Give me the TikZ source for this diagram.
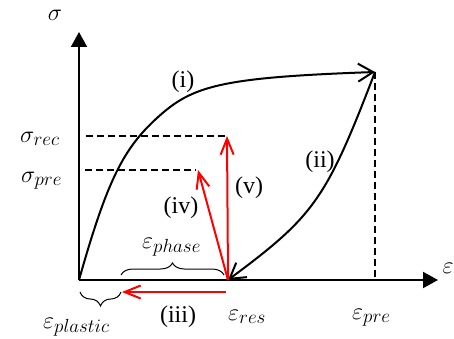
\RequirePackage{fix-cm}
\documentclass[tikz,border=0pt]{standalone}
\usepackage{fontspec}
\setmainfont{Liberation Serif}
\usetikzlibrary{arrows.meta,decorations.pathreplacing}
\DeclareMathSizes{24}{24}{19}{14}

\begin{document}
\begin{tikzpicture}[
    x=1pt, y=1pt,
    font=\fontsize{24}{28}\selectfont,
    axis/.style={
        line width=2pt,
        -{Triangle[length=15pt,width=16pt]}
    },
    curve/.style={
        line width=2pt,
        -{Straight Barb[length=15pt,width=18pt]}
    },
    guide/.style={
        line width=2pt,
        dash pattern=on 7pt off 4pt
    },
    move/.style={
        red,
        line width=2pt,
        -{Straight Barb[length=16pt,width=13pt]}
    },
    strainbrace/.style={
        decorate,
        decoration={brace,amplitude=#1},
        line width=1pt
    },
    lbl/.style={
        inner sep=0pt
    }
]

    \useasboundingbox (0,0) rectangle (454,338);

    % Points
    \coordinate (O) at (79,58);
    \coordinate (ytip) at (79,306);
    \coordinate (xtip) at (438,58);
    \coordinate (knee) at (157,220);
    \coordinate (P) at (375,266);
    \coordinate (R) at (228,58);
    \coordinate (Pfoot) at (375,58);
    \coordinate (rec0) at (86,202);
    \coordinate (rec1) at (225,202);
    \coordinate (pre0) at (85,168);
    \coordinate (pre1) at (196,168);
    \coordinate (ivtip) at (198,168);
    \coordinate (vtip) at (227,202);
    \coordinate (iii0) at (226,46);
    \coordinate (iii1) at (122,46);
    \coordinate (ph0) at (121,63);
    \coordinate (ph1) at (224,63);
    \coordinate (pl0) at (121,46);
    \coordinate (pl1) at (80,46);

    % Axes
    \draw[axis] (O) -- (ytip);
    \draw[axis] (O) -- (xtip);

    % Guide lines
    \draw[guide] (rec0) -- (rec1);
    \draw[guide] (pre0) -- (pre1);
    \draw[guide] (P) -- (Pfoot);

    % Loading (i) and recovery (ii)
    \draw[curve] (O) .. controls (107,157) and (123,189) .. (knee)
        .. controls (192,252) and (219,260.5) .. (P);
    \draw[curve] (P) .. controls (326,138) and (314,122) .. (R);

    % Red steps
    \draw[move] (iii0) -- (iii1);
    \draw[move] (R) -- (ivtip);
    \draw[move] (R) -- (vtip);

    % Braces
    \draw[strainbrace=12pt] (ph0) -- (ph1);
    \draw[strainbrace=14pt] (pl0) -- (pl1);

    % Labels
    \node[lbl] (sig) at (55,323) {$\sigma$};
    \node[lbl] (eps) at (448,70) {$\varepsilon$};
    \node[lbl, anchor=base west] (sigrec) at (20,196) {$\sigma_{rec}$};
    \node[lbl, anchor=base west] (sigpre) at (21,156) {$\sigma_{pre}$};
    \node[lbl, anchor=base west] (ephase) at (142,90) {$\varepsilon_{phase}$};
    \node[lbl, anchor=base west] (eplastic) at (43,10) {$\varepsilon_{plastic}$};
    \node[lbl, anchor=base west] (eres) at (228,18) {$\varepsilon_{res}$};
    \node[lbl, anchor=base west] (epre) at (352,19) {$\varepsilon_{pre}$};
    \node[lbl] (li) at (183,256) {(i)};
    \node[lbl] (lii) at (320,176) {(ii)};
    \node[lbl] (liii) at (178,21) {(iii)};
    \node[lbl] (liv) at (181,130) {(iv)};
    \node[lbl] (lv) at (249,150) {(v)};

\end{tikzpicture}
\end{document}
